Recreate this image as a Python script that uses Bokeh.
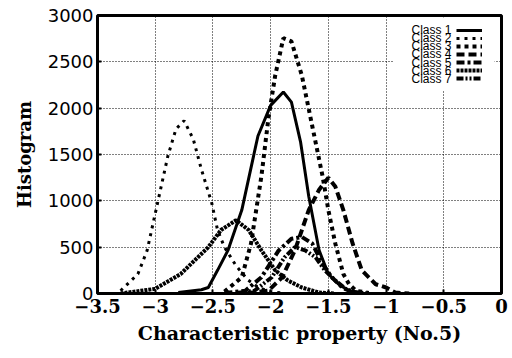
from bokeh.plotting import figure
from bokeh.models import Range1d, FixedTicker, Legend, LegendItem, Label, BoxAnnotation
from bokeh.embed import file_html
from bokeh.resources import INLINE

# Class curves (x = characteristic property, y = histogram count)
x1 = [-2.8, -2.6, -2.54, -2.46, -2.37, -2.25, -2.11, -2.0, -1.89, -1.82, -1.74, -1.67, -1.58, -1.5, -1.41, -1.32, -1.2]
y1 = [10, 40, 65, 250, 465, 900, 1700, 2030, 2175, 2065, 1630, 1050, 465, 210, 100, 30, 5]

x2 = [-3.3, -3.15, -3.07, -2.98, -2.89, -2.82, -2.75, -2.67, -2.6, -2.51, -2.46, -2.4, -2.3, -2.2, -2.1, -2.0, -1.9]
y2 = [30, 210, 465, 975, 1485, 1775, 1865, 1665, 1340, 975, 685, 500, 300, 150, 60, 20, 5]

x3 = [-2.4, -2.25, -2.17, -2.08, -2.02, -1.96, -1.89, -1.82, -1.73, -1.64, -1.55, -1.5, -1.44, -1.37, -1.32, -1.26, -1.15]
y3 = [20, 175, 540, 1265, 1885, 2355, 2755, 2720, 2355, 1810, 1265, 900, 540, 210, 100, 30, 5]

x4 = [-2.2, -2.02, -1.9, -1.79, -1.67, -1.58, -1.5, -1.44, -1.37, -1.29, -1.21, -1.09, -1.0, -0.92, -0.8]
y4 = [5, 30, 175, 465, 900, 1120, 1250, 1155, 900, 540, 250, 100, 65, 10, 0]

x5 = [-2.4, -2.22, -2.08, -1.93, -1.82, -1.73, -1.64, -1.55, -1.47, -1.38, -1.29, -1.2]
y5 = [5, 30, 175, 465, 590, 610, 540, 320, 175, 65, 10, 0]

x6 = [-3.3, -3.0, -2.78, -2.54, -2.43, -2.3, -2.19, -2.08, -1.96, -1.85, -1.73, -1.58, -1.45]
y6 = [0, 50, 210, 500, 685, 790, 685, 465, 250, 140, 65, 10, 0]

x7 = [-2.3, -2.14, -1.99, -1.88, -1.79, -1.7, -1.61, -1.53, -1.44, -1.35, -1.26, -1.15]
y7 = [5, 30, 175, 390, 500, 465, 390, 250, 140, 50, 10, 0]

labels = ["Class 1", "Class 2", "Class 3", "Class 4", "Class 5", "Class 6", "Class 7"]
x_ticks = [-3.5, -3, -2.5, -2, -1.5, -1, -0.5, 0]
y_ticks = [0, 500, 1000, 1500, 2000, 2500, 3000]

series = [(x1, y1), (x2, y2), (x3, y3), (x4, y4), (x5, y5), (x6, y6), (x7, y7)]
dashes = ["solid", "3 5", "4 4", "8 4", "8 3 3 3", "3 1", "7 2 2 2 2 2"]
widths = [3, 3, 4, 4, 4, 4, 4]

p = figure(width=512, height=358, output_backend="svg", toolbar_location=None,
           x_range=Range1d(-3.5, 0), y_range=Range1d(0, 3000))
p.min_border_left = 97
p.min_border_right = 11
p.min_border_top = 15
p.min_border_bottom = 65
p.background_fill_color = "white"
p.border_fill_color = "white"
p.outline_line_color = "black"
p.outline_line_width = 3

p.xaxis.ticker = FixedTicker(ticks=x_ticks)
p.yaxis.ticker = FixedTicker(ticks=y_ticks)
for ax in (p.xaxis[0], p.yaxis[0]):
    ax.axis_line_color = None
    ax.major_tick_in = 4
    ax.major_tick_out = 0
    ax.minor_tick_line_color = None
    ax.major_tick_line_color = "black"
    ax.major_tick_line_width = 2

p.xaxis.major_label_text_font = "DejaVu Serif"
p.xaxis.major_label_text_font_size = "18px"
p.xaxis.major_label_text_font_style = "bold"
p.xaxis.major_label_text_color = "black"
p.xaxis.major_label_standoff = 5
p.yaxis.major_label_text_font = "DejaVu Sans"
p.yaxis.major_label_text_font_size = "18px"
p.yaxis.major_label_text_color = "black"
p.yaxis.major_label_standoff = 4

p.xaxis.axis_label = "Characteristic property (No.5)"
p.yaxis.axis_label = "Histogram"
for ax in (p.xaxis[0], p.yaxis[0]):
    ax.axis_label_text_font = "DejaVu Serif"
    ax.axis_label_text_font_size = "19px"
    ax.axis_label_text_font_style = "bold"
    ax.axis_label_text_color = "black"
    ax.axis_label_standoff = 6
p.yaxis.axis_label_text_font_size = "18px"
p.yaxis.axis_label_standoff = 10

p.xgrid.grid_line_color = "black"
p.xgrid.grid_line_dash = "1 2"
p.xgrid.grid_line_width = 1
p.ygrid.grid_line_color = "black"
p.ygrid.grid_line_dash = "1 2"
p.ygrid.grid_line_width = 1

glyph_items = []
for (xs, ys), lab, d, w in zip(series, labels, dashes, widths):
    r = p.line(xs, ys, line_color="black", line_width=w, line_dash=d)
    glyph_items.append(LegendItem(label=" ", renderers=[r]))

# white legend panel (screen units relative to the frame)
panel = BoxAnnotation(left=296, right=397, bottom=203, top=276,
                      left_units="screen", right_units="screen",
                      bottom_units="screen", top_units="screen",
                      fill_color="white", fill_alpha=1, line_color=None)
p.add_layout(panel)

# legend texts (one multi-line label, right-aligned before the samples)
leg_label = Label(x=354, y=271, x_units="screen", y_units="screen",
                  text="\n".join(labels), text_align="right", text_baseline="top",
                  text_font="Liberation Sans", text_font_size="12px",
                  text_line_height=0.59, text_color="black")
p.add_layout(leg_label)

# legend line samples
leg_glyph = Legend(items=glyph_items, location=(359, 211))
leg_glyph.glyph_width = 26
leg_glyph.glyph_height = 8
leg_glyph.label_height = 8
leg_glyph.label_width = 0
leg_glyph.label_standoff = 0
leg_glyph.label_text_font_size = "2px"
leg_glyph.spacing = 0
leg_glyph.margin = 0
leg_glyph.padding = 0
leg_glyph.border_line_color = None
leg_glyph.background_fill_alpha = 0
p.add_layout(leg_glyph)

open("out.html", "w").write(file_html(p, INLINE))
